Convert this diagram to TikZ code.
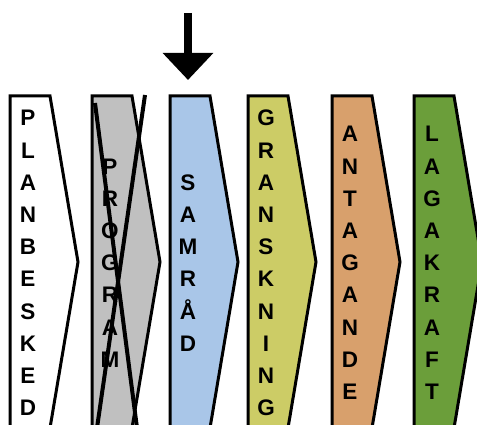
\documentclass[tikz,border=0pt]{standalone}
\usepackage{fontspec}
\setmainfont{Liberation Sans}
\usetikzlibrary{arrows.meta}
\definecolor{stagegray}{HTML}{C0C0C0}
\definecolor{stageblue}{HTML}{A9C6E8}
\definecolor{stageolive}{HTML}{CCCC66}
\definecolor{stagetan}{HTML}{D8A06C}
\definecolor{stagegreen}{HTML}{6B9E3A}

\begin{document}
\begin{tikzpicture}[x=1pt, y=-1pt,
  stage/.style={draw=black, line width=3pt, line join=miter},
  letters/.style={align=center, inner sep=0pt,
    font=\fontsize{22.5}{32.2}\selectfont\bfseries},
  arr/.style={-{Triangle[width=49pt,length=27pt]}, line width=8pt},
  cross/.style={line width=4pt},
]
  \useasboundingbox (0,0) rectangle (477,425);
  % stages, left to right
  \foreach \x/\col/\name/\txt in {
      10/white/plan/{P\\L\\A\\N\\B\\E\\S\\K\\E\\D},
      92/stagegray/program/{P\\R\\O\\G\\R\\A\\M},
      170/stageblue/samrad/{S\\A\\M\\R\\Å\\D},
      248/stageolive/granskning/{G\\R\\A\\N\\S\\K\\N\\I\\N\\G},
      332/stagetan/antagande/{A\\N\\T\\A\\G\\A\\N\\D\\E},
      414/stagegreen/lagakraft/{L\\A\\G\\A\\K\\R\\A\\F\\T}}{
    \draw[stage, fill=\col] (\x,96) -- ++(40,0) -- ++(28,166) -- ++(-28,166)
      -- ++(-40,0) -- cycle;
    \coordinate (\name) at (\x+18,96);
    \node[letters] (\name-text) at (\x+18,263) {\txt};
  }
  % program is struck out
  \draw[cross] (95,103) -- (137,428);
  \draw[cross] (145,95) -- (97,428);
  % current stage
  \coordinate (drop) at (188,13);
  \draw[arr] (drop) -- ([yshift=16pt]samrad);
\end{tikzpicture}
\end{document}
